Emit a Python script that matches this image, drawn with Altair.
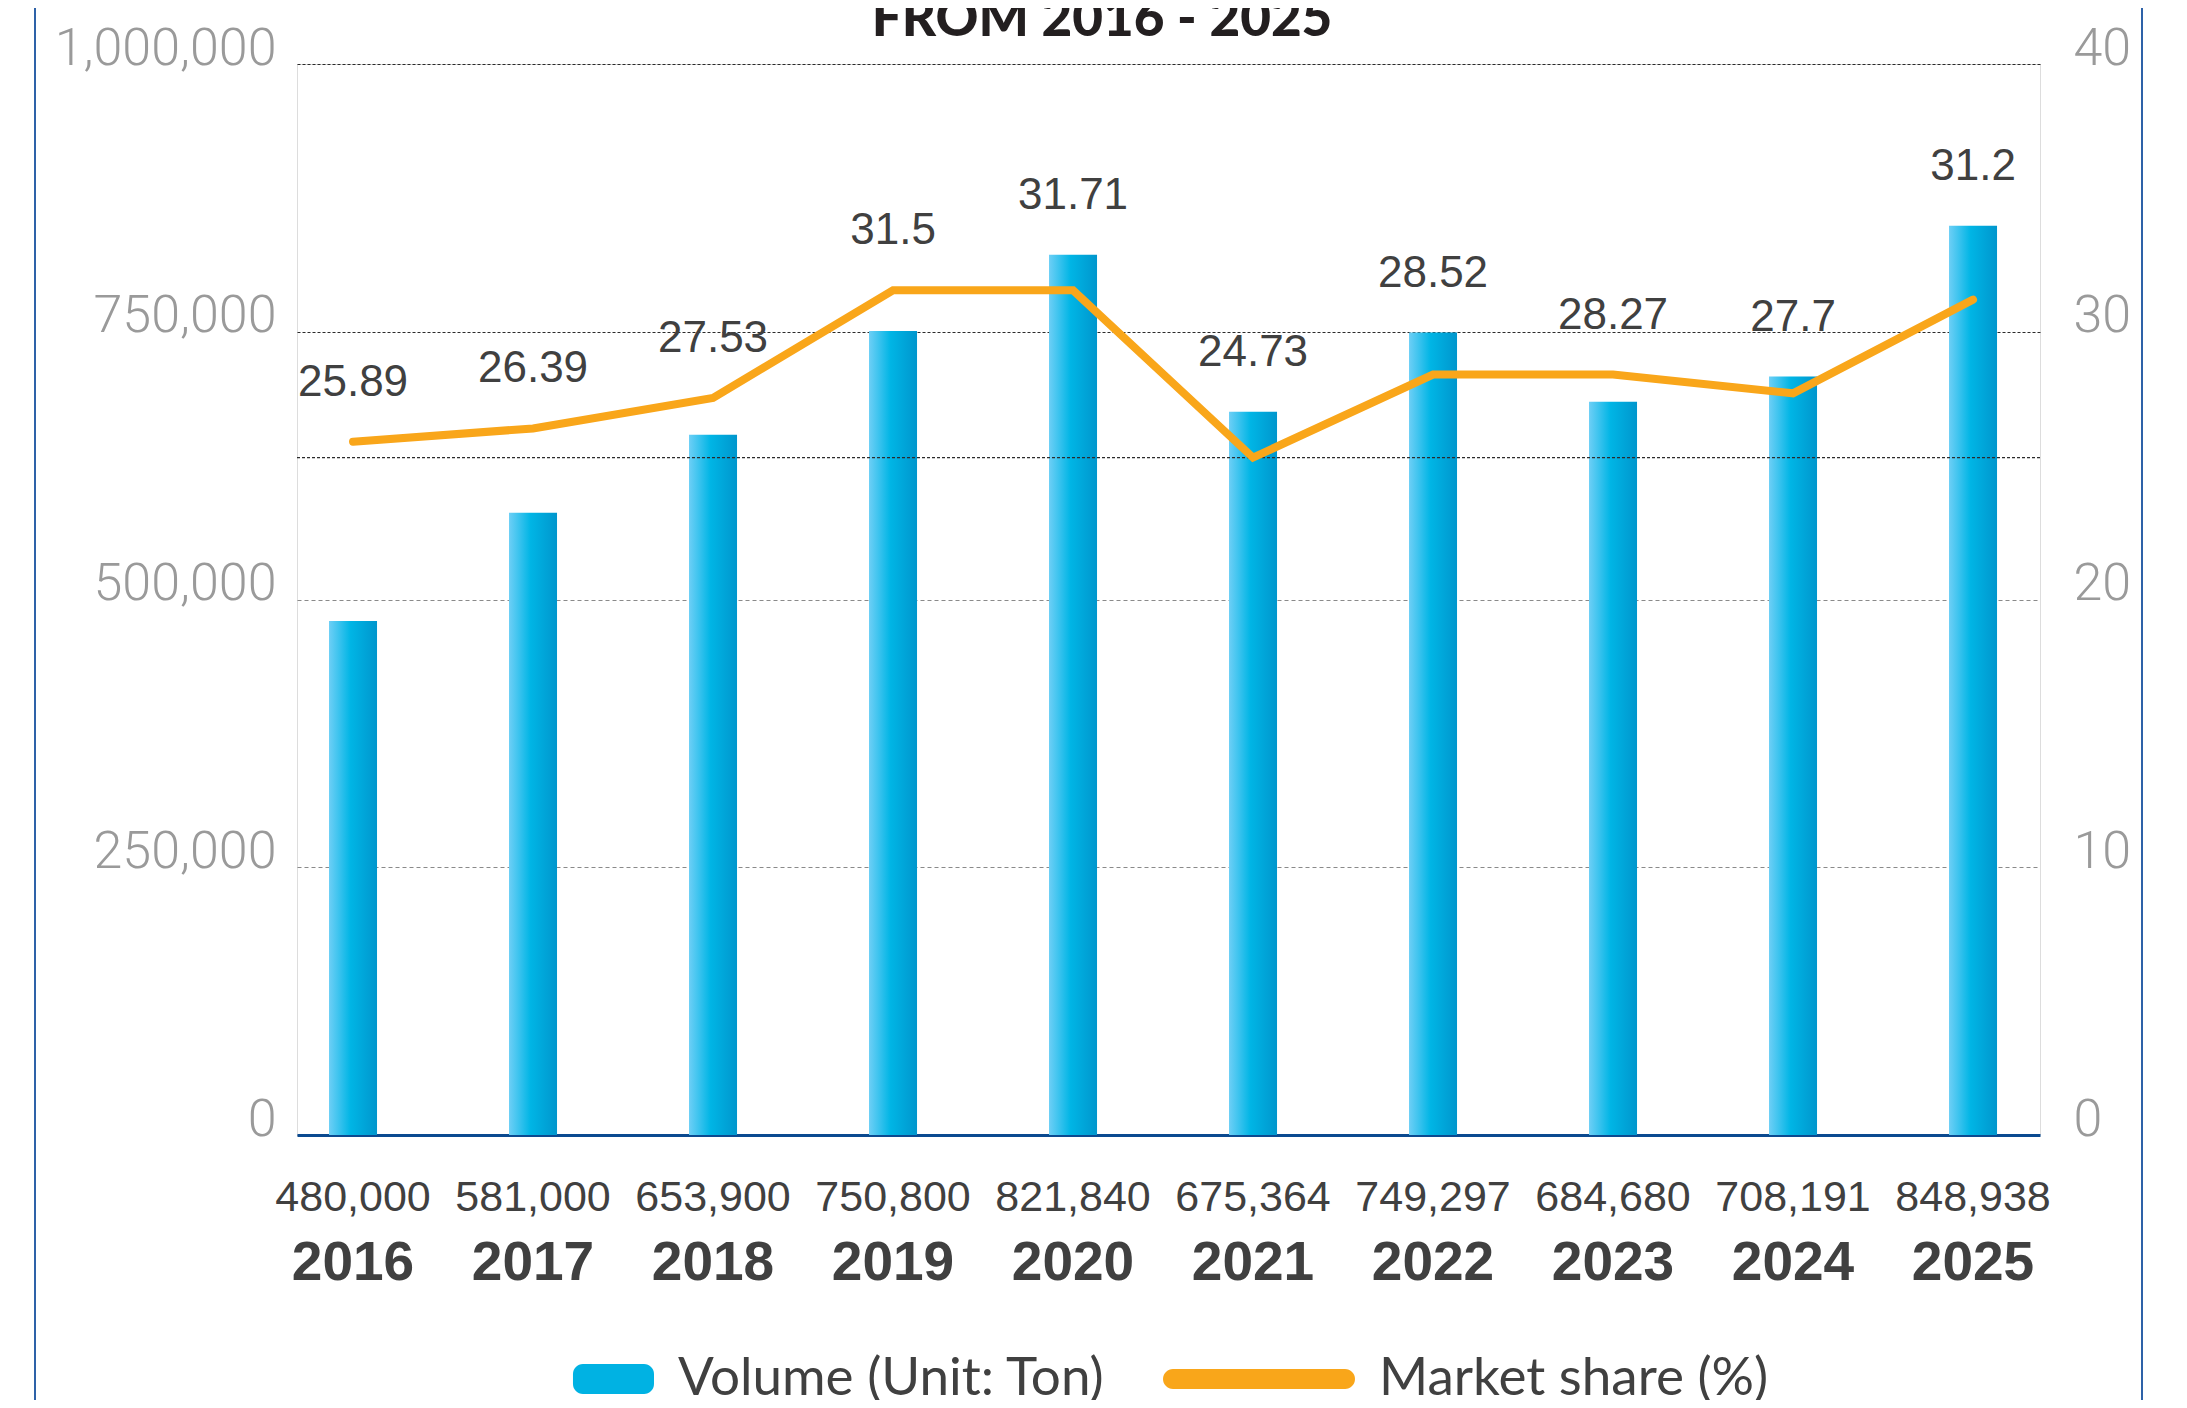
import altair as alt
import pandas as pd

# ---------------- data ----------------
years = ["2016", "2017", "2018", "2019", "2020", "2021", "2022", "2023", "2024", "2025"]
volumes = [480000, 581000, 653900, 750800, 821840, 675364, 749297, 684680, 708191, 848938]
share_labels = ["25.89", "26.39", "27.53", "31.5", "31.71", "24.73", "28.52", "28.27", "27.7", "31.2"]
# market-share line as drawn in the picture
share_line = [25.89, 26.39, 27.53, 31.55, 31.55, 25.3, 28.4, 28.4, 27.7, 31.2]
left_ticks = [0, 250000, 500000, 750000, 1000000]
right_ticks = [0, 10, 20, 30, 40]
extra_grid = [25.3]
legend_names = ["Volume (Unit: Ton)", "Market share (%)"]
title_text = ["FROM 2016 - 2025"]

df = pd.DataFrame({"year": years, "volume": volumes,
                   "share": share_line, "share_label": share_labels})

SANS = "Liberation Sans, Arial, sans-serif"
AXISF = "Roboto, Liberation Sans, sans-serif"
LEGF = "Lato, Open Sans, sans-serif"
TXT = "#404040"
AXC = "#9a9a9a"

vol_scale = alt.Scale(domain=[0, 1000000], nice=False, zero=True)
pct_scale = alt.Scale(domain=[0, 40], nice=False, zero=True)

x_axis = alt.Axis(title=None, ticks=False, domain=True, domainColor="#0b4a90",
                  domainWidth=3, labelFont=SANS, labelFontWeight="bold",
                  labelFontSize=55, labelColor=TXT, labelBaseline="alphabetic",
                  labelPadding=144, labelAngle=0, grid=False, labelLimit=400)
x_enc = alt.X("year:N", sort=years,
              scale=alt.Scale(paddingInner=0.7333, paddingOuter=0.2083, align=0.427),
              axis=x_axis)

left_axis = alt.Axis(orient="left", values=left_ticks, format=",d", title=None,
                     ticks=False, domain=False, labelFont=AXISF, labelFontWeight=300,
                     labelFontSize=52, labelColor=AXC, labelBaseline="alphabetic",
                     labelPadding=21, labelLimit=400, grid=True, gridWidth=1.2,
                     gridColor=alt.condition("datum.value <= 500000",
                                             alt.value("#8a8a8a"), alt.value("#2b2b2b")),
                     gridDash=alt.condition("datum.value <= 500000",
                                            alt.value([4, 3]), alt.value([3, 2])))
right_axis = alt.Axis(orient="right", values=right_ticks, format="d", title=None,
                      ticks=False, domain=False, labelFont=AXISF, labelFontWeight=300,
                      labelFontSize=52, labelColor=AXC, labelBaseline="alphabetic",
                      labelAlign="left", labelPadding=33, labelLimit=400, grid=False)

bar_gradient = alt.Gradient(
    gradient="linear", x1=0, x2=1, y1=0, y2=0,
    stops=[alt.GradientStop(color="#6dcff6", offset=0),
           alt.GradientStop(color="#00b5e5", offset=0.45),
           alt.GradientStop(color="#0096cd", offset=1)])

bars = alt.Chart(df).mark_bar(color=bar_gradient).encode(
    x=x_enc,
    y=alt.Y("volume:Q", scale=vol_scale, axis=left_axis),
)

vol_text = alt.Chart(df).mark_text(font=SANS, fontSize=43, color=TXT,
                                   baseline="alphabetic", dy=76).encode(
    x=x_enc,
    y=alt.Y("zero:Q", scale=vol_scale, axis=left_axis),
    text=alt.Text("volume:Q", format=",d"),
).transform_calculate(zero="0")

left = alt.layer(bars, vol_text)

line = alt.Chart(df).mark_line(color="#f9a61a", strokeWidth=8, strokeCap="round",
                               strokeJoin="miter").encode(
    x=x_enc,
    y=alt.Y("share:Q", scale=pct_scale, axis=right_axis),
)

share_text = alt.Chart(df).transform_calculate(
    label_y="max(datum.share, datum.volume / 25000)"
).mark_text(font=SANS, fontSize=44, color=TXT, baseline="alphabetic", dy=-46).encode(
    x=x_enc,
    y=alt.Y("label_y:Q", scale=pct_scale, axis=right_axis),
    text="share_label:N",
)

grid_extra = alt.Chart(pd.DataFrame({"g": extra_grid})).mark_rule(
    color="#2b2b2b", strokeWidth=1.2, strokeDash=[3, 2]).encode(
    y=alt.Y("g:Q", scale=pct_scale, axis=right_axis))

RECT_PATH = ("M0.26,-0.156 L0.896,-0.156 A0.104,0.104 0 0 1 1,-0.052 L1,0.052 "
             "A0.104,0.104 0 0 1 0.896,0.156 L0.26,0.156 A0.104,0.104 0 0 1 0.156,0.052 "
             "L0.156,-0.052 A0.104,0.104 0 0 1 0.26,-0.156 Z")
LINE_PATH = ("M-0.896,-0.104 L0.896,-0.104 A0.104,0.104 0 0 1 0.896,0.104 "
             "L-0.896,0.104 A0.104,0.104 0 0 1 -0.896,-0.104 Z")

leg = alt.Legend(orient="none", legendX=165, legendY=1219, direction="horizontal",
                 title=None, symbolSize=36864, symbolStrokeWidth=0, symbolOpacity=1,
                 labelFont=LEGF, labelFontSize=53, labelColor=TXT, labelOffset=24,
                 columnPadding=56, labelLimit=2000, labelBaseline="middle", padding=0)

legend_pts = alt.Chart(pd.DataFrame({"series": legend_names})).mark_point(
    filled=True, opacity=0).encode(
    color=alt.Color("series:N", scale=alt.Scale(domain=legend_names,
                                                range=["#00b2e3", "#f9a61a"]), legend=leg),
    shape=alt.Shape("series:N", scale=alt.Scale(domain=legend_names,
                                                range=[RECT_PATH, LINE_PATH]), legend=leg),
)

title_mark = alt.Chart(pd.DataFrame({"t": title_text})).mark_text(
    font="Lato, Liberation Sans, sans-serif", fontSize=53, fontWeight=900,
    color="#231f20", baseline="alphabetic", align="center").encode(
    x=alt.value(805), y=alt.value(-28), text="t:N")

frame = alt.Chart(alt.Data(values=[{"a": 1}])).mark_rule(color="#2e62a8", strokeWidth=2)
frame_l = frame.encode(x=alt.value(-262), y=alt.value(-80), y2=alt.value(1360))
frame_r = frame.encode(x=alt.value(1845), y=alt.value(-80), y2=alt.value(1360))

right = alt.layer(grid_extra, line, share_text, legend_pts, title_mark, frame_l, frame_r)

chart = alt.layer(left, right).resolve_scale(y="independent").properties(
    width=1743, height=1071,
    padding={"left": 289, "top": 56, "right": 139, "bottom": 265},
    autosize=alt.AutoSizeParams(type="none"),
).configure_view(stroke=None).configure(background="white")

chart.save("out.html", embed_options={"renderer": "svg", "actions": False})
